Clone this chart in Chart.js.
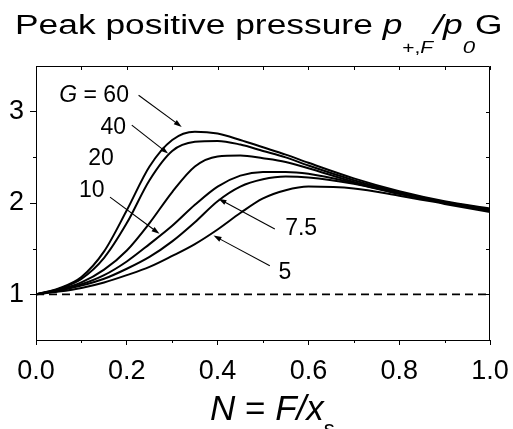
<!DOCTYPE html>
<html>
<head>
<meta charset="utf-8">
<script src="https://cdn.jsdelivr.net/npm/chart.js@4.4.1/dist/chart.umd.min.js"></script>
<style>
  html, body { margin: 0; padding: 0; background: #fff; }
  #wrap { width: 513px; height: 429px; position: relative; }
</style>
</head>
<body>
<div id="wrap"><canvas id="c"></canvas></div>
<script>
// ─── Data ─────────────────────────────────────────────────────────
const N_VALUES = [0, 0.05, 0.1, 0.15, 0.2, 0.25, 0.3, 0.35, 0.4, 0.45, 0.5, 0.55, 0.6, 0.7, 0.8, 0.9, 1.0];
const G60  = [1, 1.065, 1.19, 1.47, 1.92, 2.40, 2.69, 2.78, 2.76, 2.69, 2.61, 2.53, 2.44, 2.27, 2.13, 2.02, 1.94];
const G40  = [1, 1.06, 1.17, 1.40, 1.78, 2.25, 2.57, 2.67, 2.68, 2.64, 2.57, 2.50, 2.41, 2.25, 2.12, 2.01, 1.93];
const G20  = [1, 1.05, 1.13, 1.27, 1.48, 1.78, 2.12, 2.40, 2.51, 2.52, 2.49, 2.45, 2.38, 2.23, 2.11, 2.01, 1.93];
const G10  = [1, 1.045, 1.11, 1.21, 1.36, 1.55, 1.75, 1.98, 2.18, 2.30, 2.34, 2.34, 2.32, 2.22, 2.10, 2.00, 1.92];
const G7_5 = [1, 1.04, 1.095, 1.17, 1.28, 1.41, 1.58, 1.79, 2.02, 2.18, 2.26, 2.29, 2.28, 2.21, 2.10, 2.00, 1.91];
const G5   = [1, 1.03, 1.07, 1.13, 1.21, 1.30, 1.42, 1.55, 1.71, 1.89, 2.05, 2.14, 2.18, 2.16, 2.08, 1.99, 1.90];
const BASELINE = [1, 1];
const BASELINE_N = [0, 1];

const X_TICKS = [0, 0.2, 0.4, 0.6, 0.8, 1.0];
const X_MINOR = [0.1, 0.3, 0.5, 0.7, 0.9];
const Y_TICKS = [1, 2, 3];
const Y_MINOR = [1.5, 2.5];

const SERIES = [G60, G40, G20, G10, G7_5, G5];

// labels + arrows, in data coordinates
const NOTES = [
  { runs: [['G', 1], [' = 60', 0]], at: [0.128, 3.18], arrow: [[0.226, 3.18], [0.321, 2.833]] },
  { runs: [['40', 0]], at: [0.170, 2.83], arrow: [[0.211, 2.852], [0.291, 2.541]] },
  { runs: [['20', 0]], at: [0.143, 2.489] },
  { runs: [['10', 0]], at: [0.123, 2.137], arrow: [[0.163, 2.064], [0.272, 1.662]] },
  { runs: [['7.5', 0]], at: [0.584, 1.72], arrow: [[0.526, 1.716], [0.402, 2.046]] },
  { runs: [['5', 0]], at: [0.548, 1.236], arrow: [[0.515, 1.313], [0.391, 1.643]] },
];

const FAMILY = '"Liberation Sans", Arial, Helvetica, sans-serif';

// ─── Rich text helper ─────────────────────────────────────────────
// run: [text, italic, size, dy]; sx stretches horizontally
function drawRuns(ctx, runs, x, y, size, align, sx = 1) {
  const fontOf = r => `${r[1] ? 'italic ' : ''}${r[2] || size}px ${FAMILY}`;
  let w = 0;
  const widths = runs.map(r => { ctx.font = fontOf(r); const m = ctx.measureText(r[0]).width; w += m; return m; });
  let cx = align === 'center' ? -w / 2 : 0;
  ctx.save();
  ctx.translate(x, y);
  ctx.scale(sx, 1);
  runs.forEach((r, i) => {
    ctx.font = fontOf(r);
    ctx.fillText(r[0], cx, r[3] || 0);
    cx += widths[i];
  });
  ctx.restore();
}

function arrow(ctx, x1, y1, x2, y2) {
  const a = Math.atan2(y2 - y1, x2 - x1);
  const L = 8, W = 2.6;
  ctx.beginPath();
  ctx.moveTo(x1, y1);
  ctx.lineTo(x2 - Math.cos(a) * L * 0.8, y2 - Math.sin(a) * L * 0.8);
  ctx.stroke();
  ctx.beginPath();
  ctx.moveTo(x2, y2);
  ctx.lineTo(x2 - Math.cos(a) * L - Math.sin(a) * W, y2 - Math.sin(a) * L + Math.cos(a) * W);
  ctx.lineTo(x2 - Math.cos(a) * L + Math.sin(a) * W, y2 - Math.sin(a) * L - Math.cos(a) * W);
  ctx.closePath();
  ctx.fill();
}

// ─── Frame, minor ticks, titles, notes ────────────────────────────
const decor = {
  id: 'decor',
  afterDraw(chart) {
    const { ctx, chartArea: a, scales: { x, y } } = chart;
    ctx.save();
    ctx.strokeStyle = '#000';
    ctx.fillStyle = '#000';
    ctx.lineWidth = 1;

    // top + right frame
    ctx.beginPath();
    ctx.moveTo(a.left, a.top + 0.5);
    ctx.lineTo(a.right - 0.5, a.top + 0.5);
    ctx.lineTo(a.right - 0.5, a.bottom);
    ctx.stroke();

    ctx.beginPath();
    X_MINOR.forEach(v => {
      const px = Math.round(x.getPixelForValue(v)) + 0.5;
      ctx.moveTo(px, a.bottom); ctx.lineTo(px, a.bottom + 3);
    });
    [...X_TICKS, ...X_MINOR].forEach(v => {
      const px = Math.round(x.getPixelForValue(v)) + 0.5;
      ctx.moveTo(px, a.top); ctx.lineTo(px, a.top + 4);
    });
    Y_MINOR.forEach(v => {
      const py = Math.round(y.getPixelForValue(v)) + 0.5;
      ctx.moveTo(a.left, py); ctx.lineTo(a.left - 3, py);
    });
    [...Y_TICKS, ...Y_MINOR].forEach(v => {
      const py = Math.round(y.getPixelForValue(v)) + 0.5;
      ctx.moveTo(a.right, py); ctx.lineTo(a.right - 4, py);
    });
    ctx.stroke();

    // chart title (the original lettering is wide, hence the stretch)
    ctx.textBaseline = 'alphabetic';
    drawRuns(ctx, [
      ['Peak positive pressure ', 0],
      ['p', 1],
      ['+,', 0, 16, 19],
      ['F', 1, 16, 19],
      ['/p', 1],
      ['0', 1, 17, 19],
      ['G', 0],
    ], 15, 34, 27, 'left', 1.31);

    // x axis title
    drawRuns(ctx, [
      ['N', 1], [' = ', 0], ['F', 1], ['/x', 1], ['s', 0, 22, 16],
    ], 210, 420, 35, 'left');

    // curve labels + arrows
    ctx.lineWidth = 1.1;
    ctx.textBaseline = 'middle';
    NOTES.forEach(n => {
      drawRuns(ctx, n.runs, x.getPixelForValue(n.at[0]), y.getPixelForValue(n.at[1]), 23, 'center');
      if (n.arrow) {
        const [p, q] = n.arrow;
        arrow(ctx, x.getPixelForValue(p[0]), y.getPixelForValue(p[1]),
                   x.getPixelForValue(q[0]), y.getPixelForValue(q[1]));
      }
    });
    ctx.restore();
  }
};

// ─── Chart ────────────────────────────────────────────────────────
const datasets = SERIES.map(s => ({
  data: N_VALUES.map((n, i) => ({ x: n, y: s[i] })),
  borderColor: '#000',
  borderWidth: 2,
  pointRadius: 0,
  fill: false,
  cubicInterpolationMode: 'monotone',
}));
datasets.push({
  data: BASELINE_N.map((n, i) => ({ x: n, y: BASELINE[i] })),
  borderColor: '#000',
  borderWidth: 1.8,
  borderDash: [8, 5],
  pointRadius: 0,
  fill: false,
});

new Chart(document.getElementById('c'), {
  type: 'line',
  data: { datasets },
  options: {
    responsive: true,
    maintainAspectRatio: false,
    animation: false,
    devicePixelRatio: 1,
    layout: { padding: { top: 66, right: 23, bottom: 0, left: 0 } },
    plugins: { legend: { display: false }, tooltip: { enabled: false }, title: { display: false } },
    scales: {
      x: {
        type: 'linear', min: 0, max: 1,
        afterFit: s => { s.height = 89; s.paddingLeft = 0; s.paddingRight = 0; },
        afterBuildTicks: s => { s.ticks = X_TICKS.map(v => ({ value: v })); },
        ticks: { color: '#000', padding: 10, maxRotation: 0, autoSkip: false,
                 font: { size: 27, family: FAMILY }, callback: v => v.toFixed(1) },
        grid: { drawOnChartArea: false, drawTicks: true, tickLength: 5, tickColor: '#000', tickWidth: 1 },
        border: { display: true, color: '#000', width: 1 },
      },
      y: {
        type: 'linear', min: 0.5, max: 3.5,
        afterFit: s => { s.width = 36; s.paddingTop = 0; s.paddingBottom = 0; },
        afterBuildTicks: s => { s.ticks = Y_TICKS.map(v => ({ value: v })); },
        ticks: { color: '#000', padding: 6, autoSkip: false,
                 font: { size: 27, family: FAMILY }, callback: v => String(v) },
        grid: { drawOnChartArea: false, drawTicks: true, tickLength: 6, tickColor: '#000', tickWidth: 1 },
        border: { display: true, color: '#000', width: 1 },
      },
    },
  },
  plugins: [decor],
});
</script>
</body>
</html>
